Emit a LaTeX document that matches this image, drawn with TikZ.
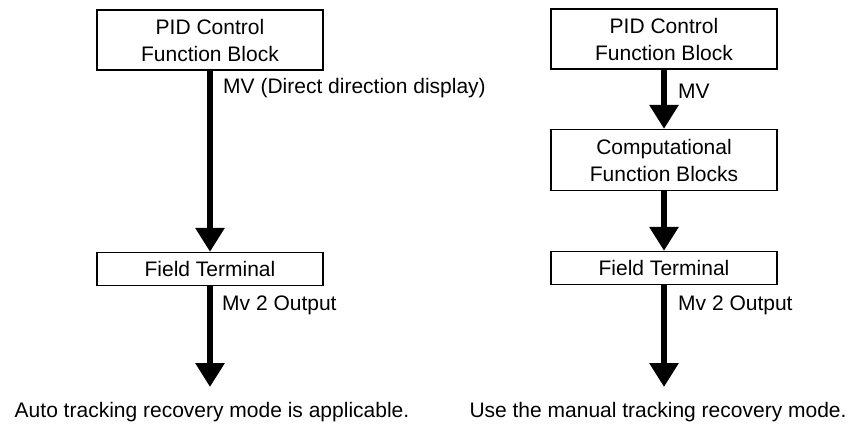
\documentclass[tikz,border=0pt]{standalone}
\usepackage{fontspec}
\setmainfont{Liberation Sans}
\usetikzlibrary{arrows.meta}
\tikzset{
  block/.style={draw, line width=1.3pt, minimum width=226pt, align=center, inner sep=0pt},
  flow/.style={line width=6pt, -{Triangle[width=28pt,length=24pt]}},
  lbl/.style={anchor=base west, inner sep=0pt}
}
\begin{document}
\begin{tikzpicture}[x=1pt, y=-1pt, font=\fontsize{21}{27}\selectfont]
  \useasboundingbox (0,0) rectangle (856,426);
  % Left chain
  \node[block, minimum height=60pt] (pidL) at (210,40) {PID Control\\Function Block};
  \node[block, minimum height=33pt] (ftL) at (210,269) {Field Terminal};
  \coordinate (endL) at (210,387);
  \draw[flow] (pidL) -- (ftL);
  \draw[flow] (ftL) -- (endL);
  \node[lbl] (mvL) at (223,93) {MV (Direct direction display)};
  \node[lbl] (outL) at (222,310) {Mv 2 Output};
  \node[anchor=base, inner sep=0pt] (noteL) at (212,417) {Auto tracking recovery mode is applicable.};
  % Right chain
  \node[block, minimum height=60pt] (pidR) at (664,39) {PID Control\\Function Block};
  \node[block, minimum height=61pt] (compR) at (664,160) {Computational\\Function Blocks};
  \node[block, minimum height=33pt] (ftR) at (664,268) {Field Terminal};
  \coordinate (endR) at (664,387);
  \draw[flow] (pidR) -- (compR);
  \draw[flow] (compR) -- (ftR);
  \draw[flow] (ftR) -- (endR);
  \node[lbl] (mvR) at (678,98) {MV};
  \node[lbl] (outR) at (678,310) {Mv 2 Output};
  \node[anchor=base, inner sep=0pt] (noteR) at (658,417) {Use the manual tracking recovery mode.};
\end{tikzpicture}
\end{document}
